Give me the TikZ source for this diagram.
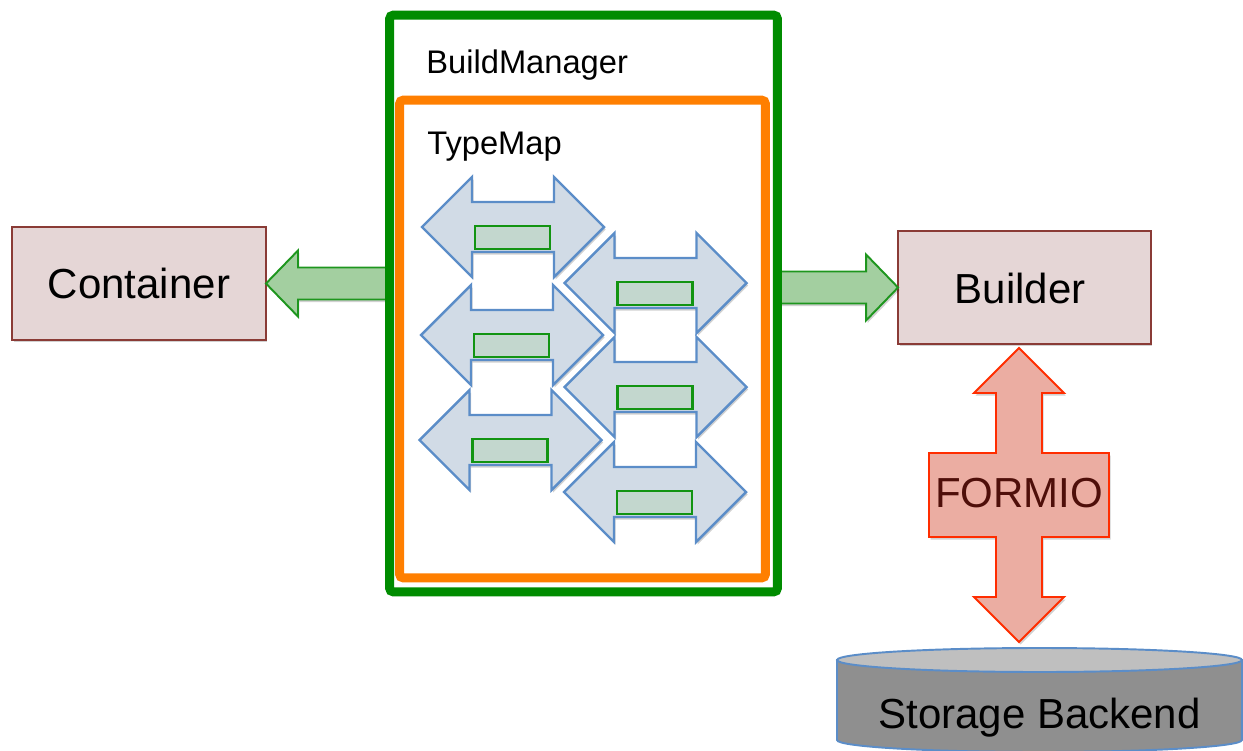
\documentclass[tikz,border=0pt]{standalone}
\usepackage{fontspec}
\setmainfont{Liberation Sans}
\usetikzlibrary{shadows,calc}
\definecolor{boxfill}{HTML}{E5D6D6}
\definecolor{boxdraw}{HTML}{8A3B36}
\definecolor{garrowfill}{HTML}{A3CFA0}
\definecolor{garrowdraw}{HTML}{1E961E}
\definecolor{bmgreen}{HTML}{008C00}
\definecolor{tmorange}{HTML}{FF7F00}
\definecolor{dafill}{HTML}{D1DBE6}
\definecolor{dadraw}{HTML}{5B8DC8}
\definecolor{srfill}{HTML}{C3D7CE}
\definecolor{srdraw}{HTML}{129412}
\definecolor{ffill}{HTML}{EBADA2}
\definecolor{fdraw}{HTML}{FF2D00}
\definecolor{ftext}{HTML}{4F0F0A}
\definecolor{cyltop}{HTML}{BFBFBF}
\definecolor{cylbody}{HTML}{8F8F8F}
\definecolor{cyldraw}{HTML}{5B8DC8}
\tikzset{
  softshadow/.style={drop shadow={shadow xshift=0.03cm, shadow yshift=-0.05cm, opacity=0.18, fill=black}},
  bigtext/.style={font=\fontsize{23.9}{28}\selectfont},
  smalltext/.style={font=\fontsize{18.6}{22}\selectfont, inner sep=0pt},
  compbox/.style={draw=boxdraw, fill=boxfill, line width=1.1pt, inner sep=0pt, outer sep=0pt, softshadow, bigtext},
  greenarrow/.style={draw=garrowdraw, fill=garrowfill, line width=1.1pt, line join=miter, softshadow},
  dblarrowstyle/.style={draw=dadraw, fill=dafill, line width=1.4pt, line join=miter, softshadow},
  slotbox/.style={draw=srdraw, fill=srfill, line width=1.4pt, inner sep=0pt, outer sep=0pt, minimum width=1.5cm, minimum height=0.46cm},
  formioarrow/.style={draw=fdraw, fill=ffill, line width=1.1pt, line join=miter, softshadow},
  cylstyle/.style={draw=cyldraw, line width=1.1pt},
  framebox/.style={line width=0.18cm, rounded corners=0.08cm, inner sep=0pt, outer sep=0pt, fill=white, softshadow}
}
\newcommand\dblarr[3]{%
  \draw[dblarrowstyle] (#1,#2) ++(-91,0) -- ++(50,-50) -- ++(0,25) -- ++(82,0) -- ++(0,-25)
    -- ++(50,50) -- ++(-50,50) -- ++(0,-25) -- ++(-82,0) -- ++(0,25) -- cycle;
  \node[slotbox] (#3) at (#1-0.5,#2+10.5) {};
}
\begin{document}
\begin{tikzpicture}[x=0.02cm, y=-0.02cm]
\useasboundingbox (0,0) rectangle (1243,750);
\clip (0,0) rectangle (1243,750);

% component boxes
\node[compbox, minimum width=5.08cm, minimum height=2.26cm] (container) at (139,283.5) {Container};
\node[compbox, minimum width=5.06cm, minimum height=2.26cm] (builder) at (1024.5,287.5) {};
\node[bigtext, inner sep=0pt] (buildertext) at (1020,288) {Builder};

% green block arrows
\draw[greenarrow] (container.east) -- ++(32,-33) -- ++(0,17) -- ++(91,0) -- ++(0,32)
  -- ++(-91,0) -- ++(0,17) -- cycle;
\draw[greenarrow] (builder.west) -- ++(-32,-33) -- ++(0,17) -- ++(-87,0) -- ++(0,32)
  -- ++(87,0) -- ++(0,17) -- cycle;

% BuildManager and TypeMap frames
\node[framebox, draw=bmgreen, minimum width=7.76cm, minimum height=11.54cm] (bm) at (583.5,303.5) {};
\node[framebox, draw=tmorange, minimum width=7.32cm, minimum height=9.56cm] (tm) at (582.5,339) {};
\node[smalltext, anchor=base west] (bmlabel) at (426,73) {BuildManager};
\node[smalltext, anchor=base west] (tmlabel) at (427,154) {TypeMap};

% double arrows with slots
\dblarr{513}{227}{s1}
\dblarr{655.5}{283}{s4}
\dblarr{512}{335}{s2}
\dblarr{655.5}{387}{s5}
\dblarr{510.5}{440}{s3}
\dblarr{655}{492}{s6}

% FORMIO arrow
\coordinate (fc) at (1019,495);
\draw[formioarrow] (fc) ++(0,-147) -- ++(45,45) -- ++(-22,0) -- ++(0,60) -- ++(67,0) -- ++(0,84)
  -- ++(-67,0) -- ++(0,60) -- ++(22,0) -- ++(-45,45) -- ++(-45,-45) -- ++(22,0) -- ++(0,-60)
  -- ++(-67,0) -- ++(0,-84) -- ++(67,0) -- ++(0,-60) -- ++(-22,0) -- cycle;
\node[bigtext, text=ftext] (formio) at (1019,493) {FORMIO};

% storage cylinder
\coordinate (cyltopc) at (1039.5,660);
\draw[cylstyle, fill=cylbody] (837,660) -- (837,740)
  arc[start angle=180, end angle=360, x radius=4.05cm, y radius=0.24cm] -- (1242,660) -- cycle;
\draw[cylstyle, fill=cyltop] (cyltopc) ellipse[x radius=4.05cm, y radius=0.24cm];
\node[bigtext, anchor=base] (storage) at (1039.5,728) {Storage Backend};
\end{tikzpicture}
\end{document}
